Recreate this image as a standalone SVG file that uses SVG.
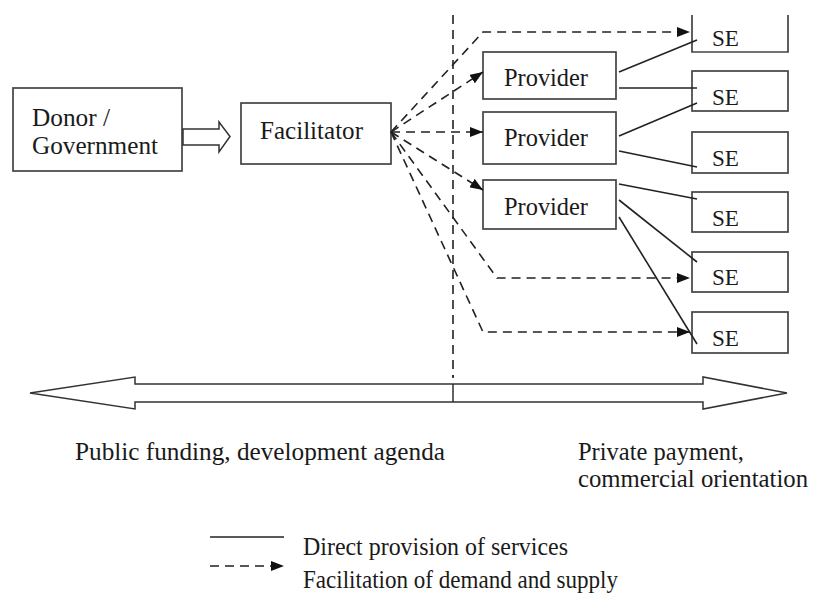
<svg xmlns="http://www.w3.org/2000/svg" width="813" height="606" viewBox="0 0 813 606">
<defs>
<marker id="ah" viewBox="0 0 13 10" refX="13" refY="5" markerWidth="13" markerHeight="10" markerUnits="userSpaceOnUse" orient="auto">
<path d="M0,0 L13,5 L0,10 Z" fill="#111"/>
</marker>
<style>
.box{fill:#fff;stroke:#444;stroke-width:1.7}
.t{font-family:"Liberation Serif","Times New Roman",serif;font-size:25px;fill:#1a1a1a}
.s{font-family:"Liberation Serif","Times New Roman",serif;font-size:24px;fill:#1a1a1a}
.solid{fill:none;stroke:#222;stroke-width:1.6}
.dash{fill:none;stroke:#222;stroke-width:1.6;stroke-dasharray:9 6}
.big{fill:#fff;stroke:#333;stroke-width:1.5}
</style>
</defs>
<rect width="813" height="606" fill="#fff"/>

<g id="donor">
<rect class="box" x="13" y="88" width="169" height="83"/>
<text class="t" x="32" y="126" textLength="78" lengthAdjust="spacingAndGlyphs">Donor /</text>
<text class="t" x="32" y="154" textLength="126" lengthAdjust="spacingAndGlyphs">Government</text>
</g>
<g id="hollow-arrow">
<path class="big" d="M183,129 H219 V122 L230,136.5 L219,152 V145 H183 Z"/>
</g>
<g id="facilitator">
<rect class="box" x="241" y="103" width="150" height="61"/>
<text class="t" x="260" y="139" textLength="103" lengthAdjust="spacingAndGlyphs">Facilitator</text>
</g>

<g id="provider1">
<rect class="box" x="483" y="52" width="133" height="47"/>
<text class="t" x="504" y="86" textLength="84" lengthAdjust="spacingAndGlyphs">Provider</text>
</g>
<g id="provider2">
<rect class="box" x="483" y="112" width="133" height="52"/>
<text class="t" x="504" y="146" textLength="84" lengthAdjust="spacingAndGlyphs">Provider</text>
</g>
<g id="provider3">
<rect class="box" x="483" y="180" width="133" height="49"/>
<text class="t" x="504" y="215" textLength="84" lengthAdjust="spacingAndGlyphs">Provider</text>
</g>

<g id="se1">
<path class="box" d="M692,15 V52 H788 V15"/>
<text class="s" x="712" y="46" textLength="27" lengthAdjust="spacingAndGlyphs">SE</text>
</g>
<g id="se2">
<rect class="box" x="692" y="71" width="96" height="40"/>
<text class="s" x="712" y="105" textLength="27" lengthAdjust="spacingAndGlyphs">SE</text>
</g>
<g id="se3">
<rect class="box" x="692" y="132" width="96" height="41"/>
<text class="s" x="712" y="166" textLength="27" lengthAdjust="spacingAndGlyphs">SE</text>
</g>
<g id="se4">
<rect class="box" x="692" y="192" width="96" height="40"/>
<text class="s" x="712" y="226" textLength="27" lengthAdjust="spacingAndGlyphs">SE</text>
</g>
<g id="se5">
<rect class="box" x="692" y="252" width="96" height="40"/>
<text class="s" x="712" y="285" textLength="27" lengthAdjust="spacingAndGlyphs">SE</text>
</g>
<g id="se6">
<rect class="box" x="692" y="312" width="96" height="41"/>
<text class="s" x="712" y="346" textLength="27" lengthAdjust="spacingAndGlyphs">SE</text>
</g>

<g id="connectors">
<line class="dash" x1="453" y1="15" x2="453" y2="378" stroke-dasharray="10 5"/>
<path class="dash" d="M391,132 L483,32 H690" marker-end="url(#ah)"/>
<path class="dash" d="M391,132 L483,72" marker-end="url(#ah)"/>
<path class="dash" d="M391,132 L483,132" marker-end="url(#ah)"/>
<path class="dash" d="M391,132 L483,190" marker-end="url(#ah)"/>
<path class="dash" d="M391,132 L497,278 H690" marker-end="url(#ah)"/>
<path class="dash" d="M391,132 L483,332 H690" marker-end="url(#ah)"/>

<line class="solid" x1="619" y1="72" x2="697" y2="40"/>
<line class="solid" x1="619" y1="88" x2="697" y2="88"/>
<line class="solid" x1="619" y1="136" x2="697" y2="103"/>
<line class="solid" x1="619" y1="151" x2="697" y2="167"/>
<line class="solid" x1="619" y1="184" x2="697" y2="199"/>
<line class="solid" x1="619" y1="200" x2="697" y2="262"/>
<line class="solid" x1="619" y1="217" x2="697" y2="344"/>
</g>

<g id="axis">
<path class="big" d="M30,393 L135,377 V384 H703 V377 L787,393 L703,409 V402 H135 V409 Z"/>
<line x1="453" y1="384" x2="453" y2="402" stroke="#222" stroke-width="1.4"/>
<line x1="453" y1="375" x2="453" y2="377" stroke="#222" stroke-width="1.4"/>
<text class="t" x="75" y="460" textLength="370" lengthAdjust="spacingAndGlyphs">Public funding, development agenda</text>
<text class="t" x="578" y="460" textLength="166" lengthAdjust="spacingAndGlyphs">Private payment,</text>
<text class="t" x="578" y="487" textLength="230" lengthAdjust="spacingAndGlyphs">commercial orientation</text>
</g>

<g id="legend">
<line class="solid" x1="210" y1="537" x2="284" y2="537"/>
<text class="t" x="303" y="555" textLength="265" lengthAdjust="spacingAndGlyphs">Direct provision of services</text>
<line class="dash" x1="210" y1="566" x2="284" y2="566" marker-end="url(#ah)"/>
<text class="t" x="303" y="588" textLength="315" lengthAdjust="spacingAndGlyphs">Facilitation of demand and supply</text>
</g>
</svg>
